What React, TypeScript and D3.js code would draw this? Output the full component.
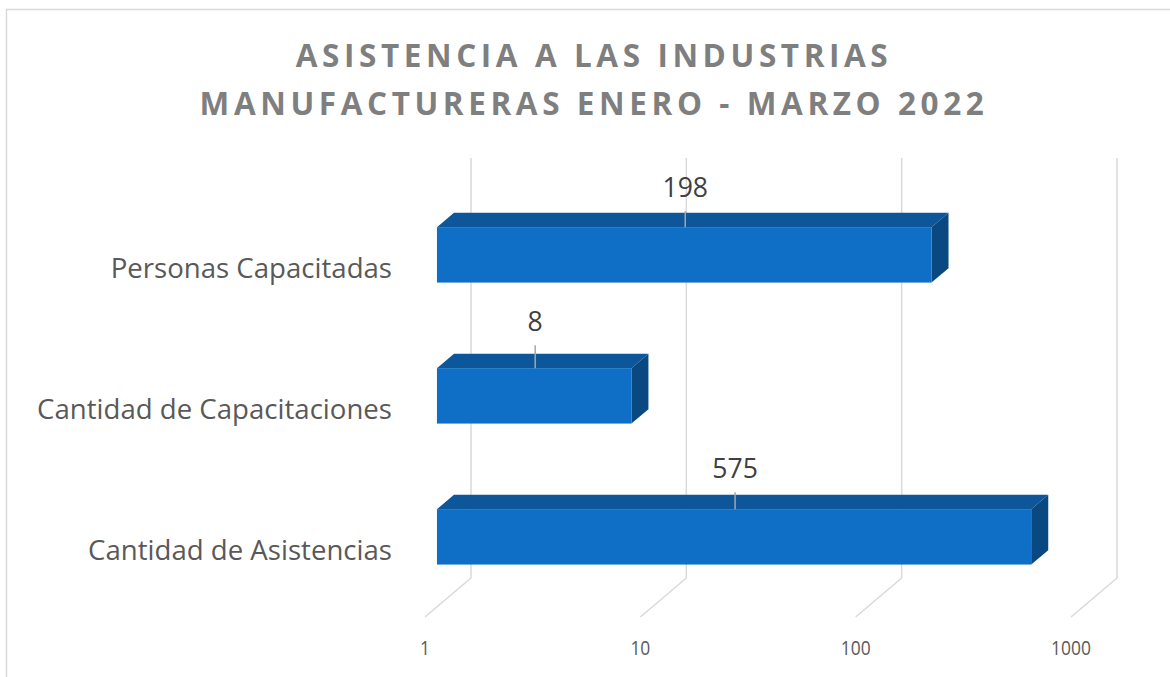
import React from 'react';
import { scaleLog, scaleBand } from 'd3';

// data
const categories = ['Personas Capacitadas', 'Cantidad de Capacitaciones', 'Cantidad de Asistencias'];
const values = [198, 8, 575];
const tickValues = [1, 10, 100, 1000];
const titleLines = ['ASISTENCIA A LAS INDUSTRIAS', 'MANUFACTURERAS ENERO - MARZO 2022'];
// how far each data label sits above its bar (moved by hand in the original)
const labelLift = [30, 37, 31];

const W = 1170;
const H = 677;
const FONT = '"Open Sans", "Noto Sans", sans-serif';

// 3d depth of the plot box
const DEPTH_X = 46;
const DEPTH_Y = -39;
const BAR_FRONT = 0.26;
const BAR_BACK = 0.63;

const FRONT_COLOR = '#0F6FC6';
const TOP_COLOR = '#0C5699';
const SIDE_COLOR = '#0A4882';

export default function App() {
  // value scale on the front plane of the floor
  const x = scaleLog().domain([1, 1000]).range([425, 1071]);
  // category bands at depth 0
  const y = scaleBand<string>().domain(categories).range([195, 617]).paddingInner(0.607).paddingOuter(0.3);

  const floorFront = 617;
  const wallTop = 158;
  const px = (d: number) => d * DEPTH_X;
  const py = (d: number) => d * DEPTH_Y;

  return (
    <svg width={W} height={H} style={{ position: 'absolute', left: 0, top: 0 }}>
      <rect x={0} y={0} width={W} height={H} fill="#fff" />
      <path d={`M6.5,${H} V9.5 H${W}`} fill="none" stroke="#d9d9d9" strokeWidth={1.5} />

      {/* title */}
      {titleLines.map((t, i) => (
        <text
          key={t}
          transform={`translate(${594},${67 + i * 48}) scale(0.955,1)`}
          textAnchor="middle"
          fontFamily={FONT}
          fontWeight="bold"
          fontSize={33}
          letterSpacing={4.8}
          fill="#7F7F7F"
        >
          {t}
        </text>
      ))}

      {/* back wall gridlines and floor lines */}
      {tickValues.map((v) => {
        const fx = x(v);
        const bx = fx + px(1);
        const by = floorFront + py(1);
        return (
          <g key={v} stroke="#D9D9D9" strokeWidth={1.5} fill="none">
            <path d={`M${bx},${wallTop} V${by} L${fx},${floorFront}`} />
          </g>
        );
      })}

      {/* tick labels */}
      {tickValues.map((v) => (
        <text
          key={'t' + v}
          transform={`translate(${x(v)},${655}) scale(0.87,1)`}
          textAnchor="middle"
          fontFamily={FONT}
          fontSize={20}
          fill="#595959"
        >
          {v}
        </text>
      ))}

      {/* bars */}
      {categories.map((c, i) => {
        const v = values[i];
        const y0 = (y(c) as number) + py(BAR_FRONT);
        const h = y.bandwidth();
        const x0 = x(1) + px(BAR_FRONT);
        const x1 = x(v) + px(BAR_FRONT);
        const dx = px(BAR_BACK - BAR_FRONT);
        const dy = py(BAR_BACK - BAR_FRONT);
        const cx = (x0 + x1) / 2 + 1;
        return (
          <g key={c}>
            <path d={`M${x0},${y0} L${x0 + dx},${y0 + dy} H${x1 + dx} L${x1},${y0} Z`} fill={TOP_COLOR} />
            <path d={`M${x1},${y0} L${x1 + dx},${y0 + dy} V${y0 + dy + h} L${x1},${y0 + h} Z`} fill={SIDE_COLOR} />
            <rect x={x0} y={y0} width={x1 - x0} height={h} fill={FRONT_COLOR} />
            <line x1={cx} x2={cx} y1={y0 - labelLift[i] + 14} y2={y0} stroke="#A6A6A6" strokeWidth={1.5} />
            <text
              transform={`translate(${cx},${y0 - labelLift[i]}) scale(0.95,1)`}
              textAnchor="middle"
              fontFamily={FONT}
              fontSize={28}
              fill="#404040"
            >
              {v}
            </text>
            <text
              x={392}
              y={(y(c) as number) + h / 2 + 13}
              textAnchor="end"
              fontFamily={FONT}
              fontSize={27.6}
              fill="#595959"
            >
              {c}
            </text>
          </g>
        );
      })}
    </svg>
  );
}
